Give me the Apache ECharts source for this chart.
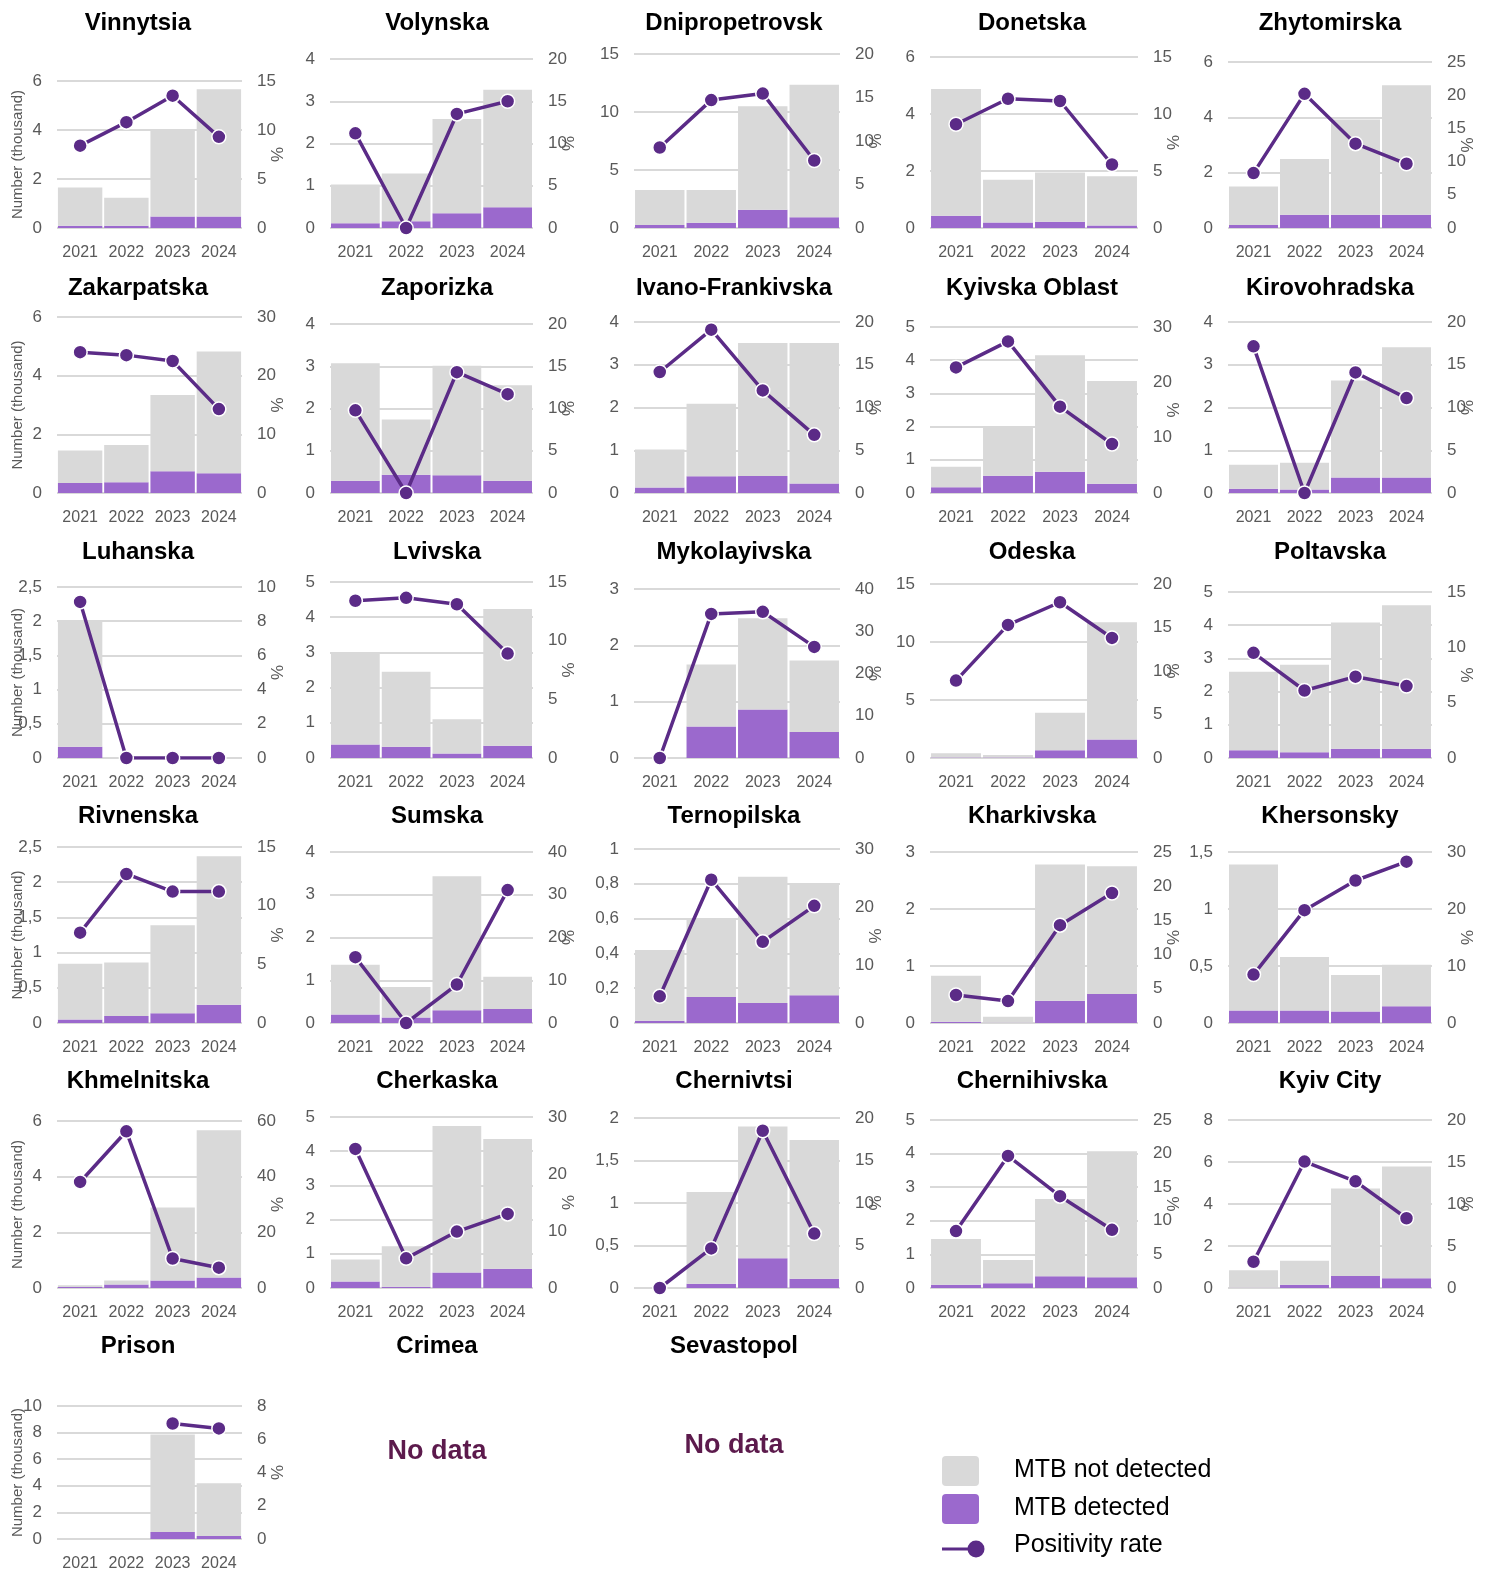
<!DOCTYPE html>
<html>
<head>
<meta charset="utf-8">
<script src="https://cdn.jsdelivr.net/npm/echarts@6/dist/echarts.min.js"></script>
<style>
  html, body { margin: 0; padding: 0; background: #ffffff; }
  #chart { width: 1489px; height: 1572px; }
</style>
</head>
<body>
<div id="chart"></div>
<script>
// ---- data (number of tests in thousands, positivity in %) ----
const years = ['2021', '2022', '2023', '2024'];

const regions = [
  'Vinnytsia', 'Volynska', 'Dnipropetrovsk', 'Donetska', 'Zhytomirska',
  'Zakarpatska', 'Zaporizka', 'Ivano-Frankivska', 'Kyivska Oblast', 'Kirovohradska',
  'Luhanska', 'Lvivska', 'Mykolayivska', 'Odeska', 'Poltavska',
  'Rivnenska', 'Sumska', 'Ternopilska', 'Kharkivska', 'Khersonsky',
  'Khmelnitska', 'Cherkaska', 'Chernivtsi', 'Chernihivska', 'Kyiv City',
  'Prison'
];

const noDataRegions = ['Crimea', 'Sevastopol'];

const seriesNames = ['MTB not detected', 'MTB detected', 'Positivity rate'];

const detected = [
  [0.09, 0.09, 0.47, 0.47],
  [0.11, 0.16, 0.35, 0.49],
  [0.26, 0.46, 1.58, 0.92],
  [0.43, 0.19, 0.22, 0.09],
  [0.11, 0.48, 0.48, 0.48],
  [0.34, 0.37, 0.74, 0.67],
  [0.29, 0.43, 0.42, 0.29],
  [0.13, 0.39, 0.40, 0.22],
  [0.17, 0.52, 0.64, 0.28],
  [0.10, 0.08, 0.36, 0.36],
  [0.165, 0, 0, 0],
  [0.38, 0.32, 0.13, 0.35],
  [0, 0.56, 0.86, 0.46],
  [0.035, 0.04, 0.66, 1.6],
  [0.23, 0.17, 0.28, 0.28],
  [0.05, 0.10, 0.14, 0.26],
  [0.20, 0.13, 0.30, 0.33],
  [0.013, 0.15, 0.115, 0.16],
  [0.02, 0.004, 0.39, 0.51],
  [0.11, 0.11, 0.10, 0.146],
  [0.04, 0.13, 0.27, 0.38],
  [0.19, 0.04, 0.45, 0.56],
  [0, 0.05, 0.35, 0.11],
  [0.10, 0.14, 0.35, 0.32],
  [0.01, 0.16, 0.57, 0.46],
  [null, null, 0.53, 0.23]
];

const notDetected = [
  [1.56, 1.14, 3.53, 5.19],
  [0.92, 1.13, 2.23, 2.78],
  [3.01, 2.81, 8.92, 11.43],
  [4.45, 1.50, 1.73, 1.73],
  [1.39, 2.01, 3.44, 4.68],
  [1.11, 1.27, 2.60, 4.15],
  [2.78, 1.31, 2.59, 2.26],
  [0.89, 1.70, 3.11, 3.29],
  [0.62, 1.50, 3.51, 3.09],
  [0.56, 0.63, 2.27, 3.05],
  [1.835, 0, 0, 0],
  [2.61, 2.13, 0.97, 3.88],
  [0, 1.10, 1.62, 1.27],
  [0.365, 0.22, 3.24, 10.1],
  [2.37, 2.64, 3.80, 4.32],
  [0.79, 0.76, 1.25, 2.11],
  [1.16, 0.71, 3.13, 0.75],
  [0.407, 0.45, 0.725, 0.64],
  [0.81, 0.106, 2.39, 2.24],
  [1.28, 0.47, 0.32, 0.364],
  [0.06, 0.14, 2.62, 5.29],
  [0.64, 1.18, 4.29, 3.80],
  [0, 1.08, 1.55, 1.63],
  [1.36, 0.69, 2.30, 3.75],
  [0.83, 1.14, 4.17, 5.32],
  [null, null, 7.33, 3.97]
];

const positivity = [
  [8.4, 10.8, 13.5, 9.3],
  [11.2, 0, 13.5, 15.0],
  [9.25, 14.7, 15.45, 7.76],
  [9.1, 11.34, 11.14, 5.57],
  [8.27, 20.2, 12.7, 9.67],
  [24.0, 23.5, 22.5, 14.3],
  [9.78, 0, 14.3, 11.7],
  [14.15, 19.1, 12.0, 6.8],
  [22.7, 27.4, 15.6, 8.86],
  [17.15, 0, 14.1, 11.1],
  [9.13, 0, 0, 0],
  [13.4, 13.65, 13.1, 8.9],
  [0, 34.1, 34.6, 26.3],
  [8.9, 15.3, 17.9, 13.8],
  [9.5, 6.1, 7.35, 6.5],
  [7.7, 12.7, 11.2, 11.2],
  [15.4, 0, 9.0, 31.1],
  [4.6, 24.7, 14.0, 20.2],
  [4.1, 3.2, 14.3, 19.0],
  [8.5, 19.8, 25.0, 28.3],
  [38.1, 56.3, 10.6, 7.3],
  [24.4, 5.2, 9.9, 13.0],
  [0, 4.66, 18.5, 6.4],
  [8.47, 19.65, 13.66, 8.66],
  [3.13, 15.05, 12.7, 8.3],
  [null, null, 6.95, 6.65]
];

// axis ranges: left = number (thousand), right = %
const countMax  = [6, 4, 15, 6, 6,   6, 4, 4, 5, 4,   2.5, 5, 3, 15, 5,   2.5, 4, 1, 3, 1.5,   6, 5, 2, 5, 8,   10];
const countStep = [2, 1, 5, 2, 2,    2, 1, 1, 1, 1,   0.5, 1, 1, 5, 1,    0.5, 1, 0.2, 1, 0.5, 2, 1, 0.5, 1, 2, 2];
const rateMax   = [15, 20, 20, 15, 25, 30, 20, 20, 30, 20, 10, 15, 40, 20, 15, 15, 40, 30, 25, 30, 60, 30, 20, 25, 20, 8];
const rateStep  = [5, 5, 5, 5, 5,    10, 5, 5, 10, 5,  2, 5, 10, 5, 5,    5, 10, 10, 5, 10,  20, 10, 5, 5, 5,  2];

// ---- layout (pixels) ----
const colLeft   = [57, 330, 634, 930, 1228];
const colRight  = [242, 533, 840, 1138, 1432];
const rowBottom = [228, 493, 758, 1023, 1288, 1539];
const titleMidY = [20, 285, 549, 813, 1078, 1343];
const titleMidX = [133, 432, 729, 1027, 1325];
const plotTop = [81, 59, 54, 57, 62,  317, 324, 322, 327, 322,  587, 582, 589, 584, 592,
                 847, 852, 849, 852, 852,  1121, 1117, 1118, 1120, 1120,  1406];

const GREY = '#d9d9d9';
const PURPLE = '#9b69cd';
const LINE = '#5b2b87';
const AXIS_TEXT = '#595959';
const FONT = '"Liberation Sans", Arial, sans-serif';

const commaNum = v => String(Math.round(v * 100) / 100).replace('.', ',');

const grids = [], xAxes = [], yAxes = [], series = [], titles = [];

regions.forEach((name, i) => {
  const row = i < 25 ? Math.floor(i / 5) : 5;
  const col = i < 25 ? i % 5 : 0;
  const left = colLeft[col];
  const top = plotTop[i];
  grids.push({
    left: left, top: top,
    width: colRight[col] - left,
    height: rowBottom[row] - top
  });
  titles.push({
    text: name,
    left: titleMidX[col], top: titleMidY[row] - 14,
    textAlign: 'center',
    textStyle: { fontFamily: FONT, fontWeight: 'bold', fontSize: 24, color: '#000' }
  });
  xAxes.push({
    type: 'category', gridIndex: i, data: years,
    axisLine: { show: false }, axisTick: { show: false },
    axisLabel: { interval: 0, color: AXIS_TEXT, fontFamily: FONT, fontSize: 16, margin: 17 }
  });
  yAxes.push({
    type: 'value', gridIndex: i, position: 'left',
    min: 0, max: countMax[i], interval: countStep[i],
    name: col === 0 ? 'Number (thousand)' : '',
    nameLocation: 'middle', nameGap: 32, nameMoveOverlap: false,
    nameTextStyle: { color: AXIS_TEXT, fontFamily: FONT, fontSize: 15 },
    axisLine: { show: false }, axisTick: { show: false },
    axisLabel: { color: AXIS_TEXT, fontFamily: FONT, fontSize: 17, margin: 15, formatter: commaNum },
    splitLine: { show: true, lineStyle: { color: GREY, width: 2 } }
  });
  yAxes.push({
    type: 'value', gridIndex: i, position: 'right',
    min: 0, max: rateMax[i], interval: rateStep[i],
    name: '%', nameLocation: 'middle', nameGap: 28, nameMoveOverlap: false,
    nameTextStyle: { color: AXIS_TEXT, fontFamily: FONT, fontSize: 17 },
    axisLine: { show: false }, axisTick: { show: false },
    axisLabel: { color: AXIS_TEXT, fontFamily: FONT, fontSize: 17, margin: 15 },
    splitLine: { show: false }
  });
  series.push({
    name: seriesNames[1], type: 'bar', stack: 'tests' + i,
    xAxisIndex: i, yAxisIndex: 2 * i, data: detected[i],
    barCategoryGap: '4%',
    itemStyle: { color: PURPLE }
  });
  series.push({
    name: seriesNames[0], type: 'bar', stack: 'tests' + i,
    xAxisIndex: i, yAxisIndex: 2 * i, data: notDetected[i],
    barCategoryGap: '4%',
    itemStyle: { color: GREY }
  });
  series.push({
    name: seriesNames[2], type: 'line',
    xAxisIndex: i, yAxisIndex: 2 * i + 1, data: positivity[i],
    z: 5, symbol: 'circle', symbolSize: 14,
    lineStyle: { color: LINE, width: 3.5 },
    itemStyle: { color: LINE, borderColor: '#ffffff', borderWidth: 1.5 }
  });
});

// panels without data
noDataRegions.forEach((name, k) => {
  titles.push({
    text: name,
    left: titleMidX[k + 1], top: titleMidY[5] - 14,
    textAlign: 'center',
    textStyle: { fontFamily: FONT, fontWeight: 'bold', fontSize: 24, color: '#000' }
  });
});
const noDataY = [1448, 1442];
noDataRegions.forEach((name, k) => {
  titles.push({
    text: 'No data',
    left: titleMidX[k + 1], top: noDataY[k] - 15,
    textAlign: 'center',
    textStyle: { fontFamily: FONT, fontWeight: 'bold', fontSize: 27, color: '#5c1a4c' }
  });
});

// key: two swatches for the bars and a line-with-dot for the rate
const keyX = 942, keyTextX = 1014, keyRowY = [1471, 1509, 1546];
const keyGraphics = [
  { type: 'rect', left: keyX, top: keyRowY[0] - 15, shape: { width: 37, height: 30, r: 4 }, style: { fill: GREY } },
  { type: 'rect', left: keyX, top: keyRowY[1] - 15, shape: { width: 37, height: 30, r: 4 }, style: { fill: PURPLE } },
  { type: 'line', shape: { x1: keyX, y1: keyRowY[2] + 3, x2: keyX + 30, y2: keyRowY[2] + 3 }, style: { stroke: LINE, lineWidth: 3 } },
  { type: 'circle', shape: { cx: keyX + 34, cy: keyRowY[2] + 3, r: 8.5 }, style: { fill: LINE } }
];
seriesNames.forEach((label, k) => {
  keyGraphics.push({
    type: 'text', left: keyTextX, top: keyRowY[k] - 13,
    style: { text: label, fill: '#000', font: '25px "Liberation Sans", Arial, sans-serif' }
  });
});

const chart = echarts.init(document.getElementById('chart'), null, { renderer: 'canvas' });
chart.setOption({
  animation: false,
  backgroundColor: '#ffffff',
  title: titles,
  grid: grids,
  xAxis: xAxes,
  yAxis: yAxes,
  series: series,
  graphic: keyGraphics
});
</script>
</body>
</html>
